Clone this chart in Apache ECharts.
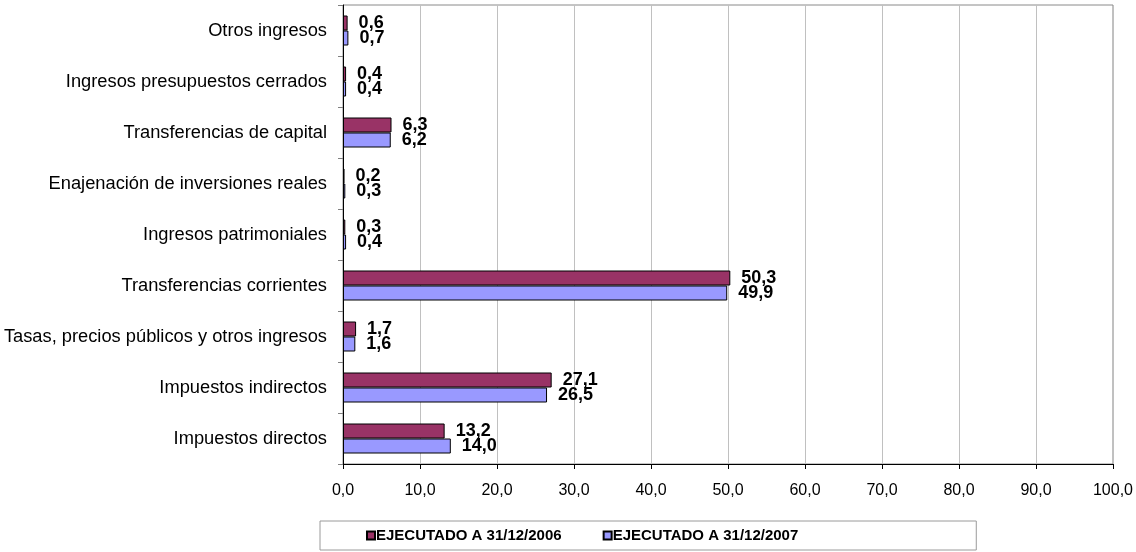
<!DOCTYPE html>
<html>
<head>
<meta charset="utf-8">
<script src="https://cdn.jsdelivr.net/npm/echarts@6/dist/echarts.min.js"></script>
<style>
  html, body { margin: 0; padding: 0; background: #fff; }
  #chart { width: 1136px; height: 552px; }
</style>
</head>
<body>
<div id="chart"></div>
<script>
// categorías (de abajo hacia arriba, como en el gráfico)
var categorias = [
  'Impuestos directos',
  'Impuestos indirectos',
  'Tasas, precios públicos y otros ingresos',
  'Transferencias corrientes',
  'Ingresos patrimoniales',
  'Enajenación de inversiones reales',
  'Transferencias de capital',
  'Ingresos presupuestos cerrados',
  'Otros ingresos'
];
var ejecutado2006 = [13.2, 27.1, 1.7, 50.3, 0.3, 0.2, 6.3, 0.4, 0.6];
var ejecutado2007 = [14.0, 26.5, 1.6, 49.9, 0.4, 0.3, 6.2, 0.4, 0.7];
var nombres = ['EJECUTADO A 31/12/2006', 'EJECUTADO A 31/12/2007'];
var colores = ['#993366', '#9999FF'];

var fuente = 'Liberation Sans, Arial, sans-serif';

function coma(v) {
  return v.toFixed(1).replace('.', ',');
}

var myChart = echarts.init(document.getElementById('chart'));

function serie(nombre, datos, color) {
  return {
    name: nombre,
    type: 'bar',
    data: datos,
    barWidth: 15,
    barGap: '0%',
    itemStyle: { color: color, borderColor: '#000', borderWidth: 1 },
    label: {
      show: true,
      position: 'right',
      distance: 11,
      color: '#000',
      fontFamily: fuente,
      fontWeight: 'bold',
      fontSize: 18,
      lineHeight: 15,
      formatter: function (p) { return coma(p.value); }
    }
  };
}

var option = {
  animation: false,
  textStyle: { fontFamily: fuente },
  grid: {
    left: 343, right: 23, top: 5, bottom: 88,
    show: true, borderColor: '#8a8a8a', borderWidth: 1, containLabel: false
  },
  legend: {
    data: nombres,
    left: 320, top: 521,
    orient: 'horizontal',
    padding: [7, 178, 7, 46],
    itemGap: 41,
    itemWidth: 8, itemHeight: 8,
    icon: 'rect',
    borderColor: '#9a9a9a', borderWidth: 1,
    textStyle: { color: '#000', fontWeight: 'bold', fontSize: 15, fontFamily: fuente, padding: [0, 0, 0, -4] }
  },
  xAxis: {
    type: 'value',
    min: 0, max: 100, interval: 10,
    axisLine: { show: true, lineStyle: { color: '#000' } },
    axisTick: { show: true, length: 5, lineStyle: { color: '#000' } },
    axisLabel: { color: '#000', fontSize: 16, margin: 19, formatter: coma },
    splitLine: { show: true, lineStyle: { color: '#c0c0c0' } }
  },
  yAxis: {
    type: 'category',
    data: categorias,
    axisLine: { show: true, lineStyle: { color: '#000' } },
    axisTick: { show: true, length: 5, lineStyle: { color: '#808080' } },
    axisLabel: { color: '#000', fontSize: 18.3, margin: 16 },
    splitLine: { show: false }
  },
  series: [
    serie(nombres[0], ejecutado2006, colores[0]),
    serie(nombres[1], ejecutado2007, colores[1])
  ]
};

myChart.setOption(option);
</script>
</body>
</html>
